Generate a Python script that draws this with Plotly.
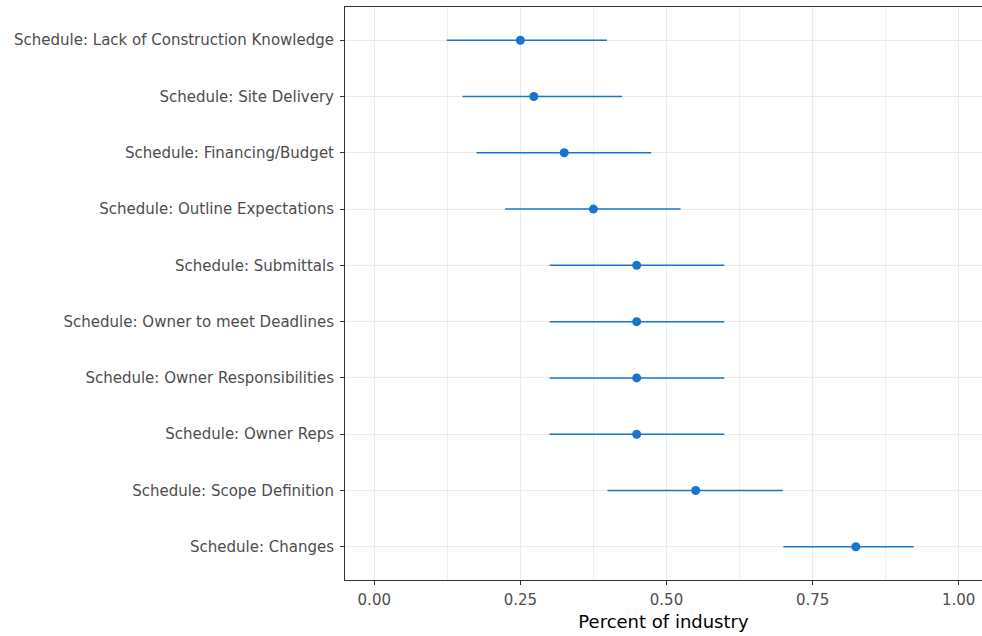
import plotly.graph_objects as go

categories = [
    "Schedule: Lack of Construction Knowledge",
    "Schedule: Site Delivery",
    "Schedule: Financing/Budget",
    "Schedule: Outline Expectations",
    "Schedule: Submittals",
    "Schedule: Owner to meet Deadlines",
    "Schedule: Owner Responsibilities",
    "Schedule: Owner Reps",
    "Schedule: Scope Definition",
    "Schedule: Changes",
]
estimate = [0.250, 0.273, 0.325, 0.375, 0.449, 0.449, 0.449, 0.449, 0.550, 0.824]
lower = [0.124, 0.151, 0.175, 0.224, 0.300, 0.300, 0.300, 0.300, 0.399, 0.700]
upper = [0.398, 0.424, 0.474, 0.524, 0.599, 0.599, 0.599, 0.599, 0.699, 0.923]
x_ticks = [0.0, 0.25, 0.5, 0.75, 1.0]
x_tick_labels = ["0.00", "0.25", "0.50", "0.75", "1.00"]

color = "#1874CD"
font_family = "DejaVu Sans, Liberation Sans, Arial, sans-serif"

fig = go.Figure()
fig.add_trace(go.Scatter(
    x=estimate,
    y=categories,
    mode="markers",
    marker=dict(color=color, size=9, line=dict(width=0)),
    error_x=dict(
        type="data",
        symmetric=False,
        array=[u - e for u, e in zip(upper, estimate)],
        arrayminus=[e - l for e, l in zip(estimate, lower)],
        color=color,
        thickness=1.5,
        width=0,
    ),
    showlegend=False,
))

fig.update_layout(
    width=982,
    height=636,
    margin=dict(l=345, r=0, t=7, b=56),
    paper_bgcolor="white",
    plot_bgcolor="white",
    font=dict(family=font_family, color="#4D4D4D", size=15),
    xaxis=dict(
        range=[-0.0501, 1.0399],
        tickvals=x_ticks,
        ticktext=x_tick_labels,
        showgrid=True,
        gridcolor="#EBEBEB",
        gridwidth=1,
        minor=dict(dtick=0.125, tick0=0, showgrid=True, gridcolor="#EFEFEF", gridwidth=1),
        showline=True,
        mirror=True,
        linecolor="#333333",
        linewidth=1,
        ticks="outside",
        ticklen=4,
        tickcolor="#333333",
        ticklabelstandoff=2,
        tickfont=dict(size=15, color="#4D4D4D"),
        zeroline=False,
        title=dict(text="Percent of industry", font=dict(size=18, color="black"), standoff=7),
    ),
    yaxis=dict(
        categoryorder="array",
        categoryarray=categories,
        range=[9.59, -0.59],
        showgrid=True,
        gridcolor="#EBEBEB",
        gridwidth=1,
        showline=True,
        mirror=False,
        linecolor="#333333",
        linewidth=1,
        ticks="outside",
        ticklen=4,
        tickcolor="#333333",
        ticklabelstandoff=3,
        tickfont=dict(size=15, color="#4D4D4D"),
        zeroline=False,
    ),
)

fig.write_html("out.html")
